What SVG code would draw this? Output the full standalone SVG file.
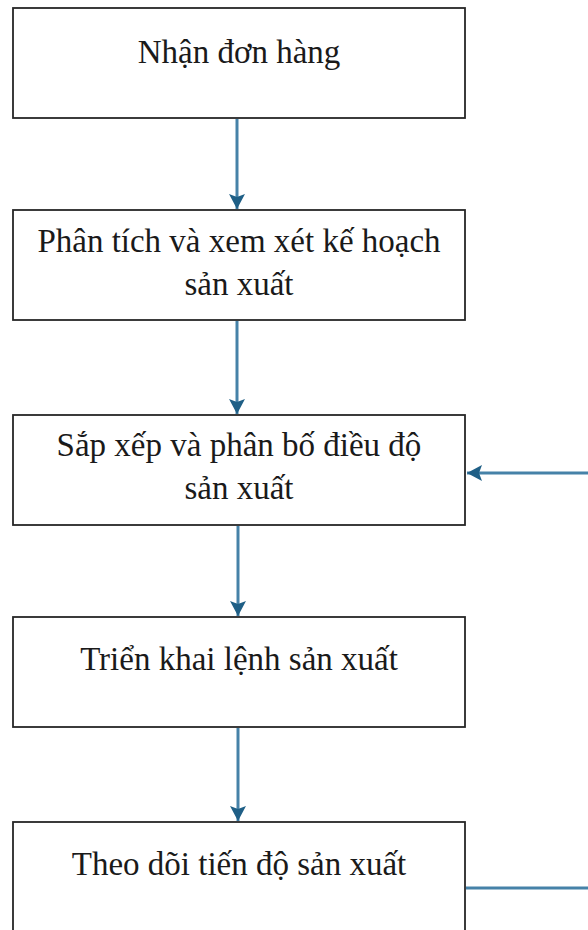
<svg xmlns="http://www.w3.org/2000/svg" width="588" height="930" viewBox="0 0 588 930">
<style>
.box{fill:#ffffff;stroke:#262626;stroke-width:1.8}
.t{font-family:"Liberation Serif","Times New Roman",serif;font-size:33px;fill:#1a1a1a;text-anchor:middle}
.c{fill:none;stroke:#4682a8;stroke-width:3}
</style>
<defs>
<marker id="ah" markerUnits="userSpaceOnUse" markerWidth="16" markerHeight="18" refX="15" refY="9" orient="auto">
<path d="M0,1 L15,9 L0,17 L3,9 z" fill="#1f5f86"/>
</marker>
</defs>
<rect width="588" height="930" fill="#ffffff"/>
<g id="n1"><rect class="box" x="13" y="8" width="452" height="110"/><text class="t" x="239" y="63">Nhận đơn hàng</text></g>
<g id="n2"><rect class="box" x="13" y="210" width="452" height="110"/><text class="t" x="239" y="252">Phân tích và xem xét kế hoạch</text><text class="t" x="239" y="295">sản xuất</text></g>
<g id="n3"><rect class="box" x="13" y="415" width="452" height="110"/><text class="t" x="239" y="456">Sắp xếp và phân bố điều độ</text><text class="t" x="239" y="499">sản xuất</text></g>
<g id="n4"><rect class="box" x="13" y="617" width="452" height="110"/><text class="t" x="239" y="670">Triển khai lệnh sản xuất</text></g>
<g id="n5"><rect class="box" x="13" y="822" width="452" height="120"/><text class="t" x="239" y="875">Theo dõi tiến độ sản xuất</text></g>
<g id="connectors">
<line class="c" x1="237" y1="119" x2="237" y2="209" marker-end="url(#ah)"/>
<line class="c" x1="237" y1="321" x2="237" y2="414" marker-end="url(#ah)"/>
<line class="c" x1="238" y1="526" x2="238" y2="616" marker-end="url(#ah)"/>
<line class="c" x1="238" y1="728" x2="238" y2="821" marker-end="url(#ah)"/>
<path class="c" d="M466,888 L592,888 L592,473 L467,473" marker-end="url(#ah)"/>
</g>
</svg>
